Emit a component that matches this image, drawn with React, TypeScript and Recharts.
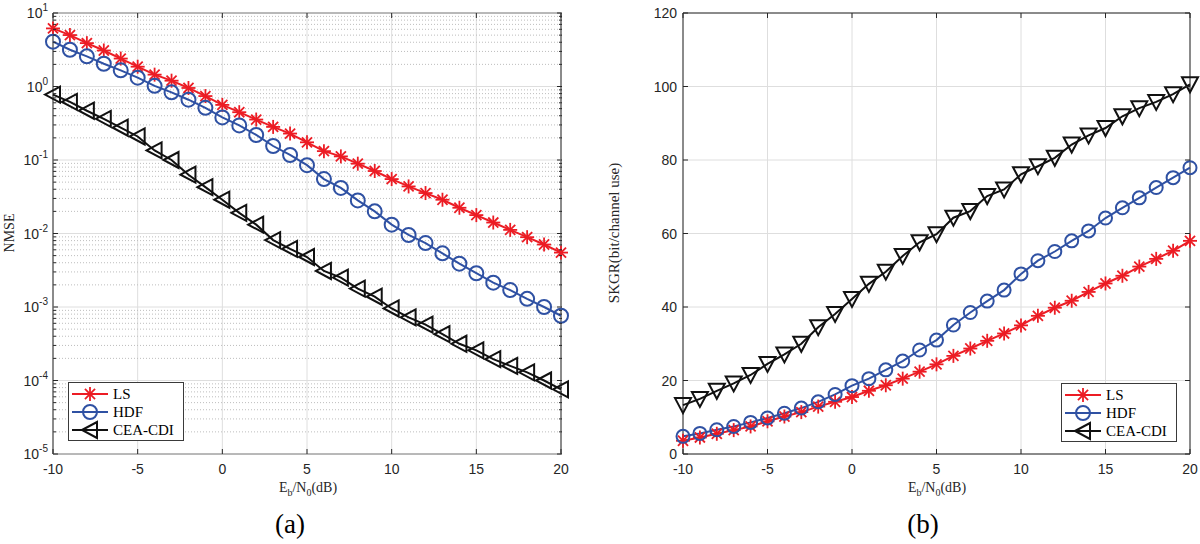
import React from 'react';
import { LineChart, Line, XAxis, YAxis, CartesianGrid, ReferenceLine, ReferenceArea, Legend } from 'recharts';

// Eb/N0 sweep, 1 dB steps
const snrDb = [-10, -9, -8, -7, -6, -5, -4, -3, -2, -1, 0, 1, 2, 3, 4, 5, 6, 7, 8, 9, 10, 11, 12, 13, 14, 15, 16, 17, 18, 19, 20];

// (a) NMSE
const nmseLs = [6.17, 5.01, 3.89, 3.09, 2.4, 1.86, 1.45, 1.2, 0.955, 0.741, 0.562, 0.447, 0.355, 0.282, 0.229, 0.174, 0.132, 0.112, 0.0891, 0.0708, 0.055, 0.0437, 0.0355, 0.0288, 0.0224, 0.0178, 0.0141, 0.0112, 0.00891, 0.00708, 0.0055];
const nmseHdf = [4.07, 3.16, 2.57, 2.04, 1.66, 1.32, 1.02, 0.832, 0.661, 0.513, 0.38, 0.295, 0.219, 0.155, 0.117, 0.0851, 0.055, 0.0417, 0.0282, 0.02, 0.0132, 0.00955, 0.00741, 0.00537, 0.00389, 0.00288, 0.00214, 0.0017, 0.00129, 0.001, 0.00076];
const nmseCea = [0.776, 0.617, 0.468, 0.363, 0.275, 0.209, 0.135, 0.1, 0.0631, 0.0427, 0.0288, 0.0191, 0.0132, 0.00813, 0.00617, 0.00479, 0.00309, 0.00251, 0.00178, 0.00138, 0.000955, 0.000724, 0.000575, 0.000427, 0.000316, 0.000257, 0.000195, 0.000158, 0.000129, 0.0001, 0.0000759];

// (b) SKGR in bit/channel use
const skgrLs = [3.6, 4.5, 5.5, 6.5, 7.5, 8.9, 10.2, 11.4, 12.9, 14.2, 15.5, 17.2, 18.7, 20.5, 22.4, 24.4, 26.7, 28.7, 30.8, 32.8, 35.0, 37.6, 39.8, 41.7, 44.1, 46.4, 48.5, 51.0, 53.1, 55.3, 58.0];
const skgrHdf = [4.8, 5.6, 6.6, 7.5, 8.6, 9.8, 11.1, 12.5, 14.2, 16.2, 18.6, 20.5, 22.9, 25.3, 28.3, 31.0, 35.1, 38.5, 41.6, 44.6, 49.0, 52.6, 55.1, 58.0, 60.7, 64.2, 67.0, 69.7, 72.5, 75.2, 77.9];
const skgrCea = [13.3, 15.0, 17.2, 19.2, 21.5, 24.5, 27.1, 30.0, 34.5, 38.1, 42.2, 46.3, 49.6, 53.9, 57.6, 59.8, 64.3, 66.1, 70.2, 72.0, 76.1, 78.3, 80.6, 84.2, 86.7, 88.7, 91.9, 94.1, 95.8, 97.9, 100.6];

const xTicks = [-10, -5, 0, 5, 10, 15, 20];
const nmseDecades = [1e-5, 1e-4, 1e-3, 1e-2, 1e-1, 1, 10];
const nmseExponents = ['-5', '-4', '-3', '-2', '-1', '0', '1'];
const minorSteps = [2, 3, 4, 5, 6, 7, 8, 9];
const skgrTicks = [0, 20, 40, 60, 80, 100, 120];
const seriesNames = ['LS', 'HDF', 'CEA-CDI'];

const nmseMinor = nmseDecades.slice(0, -1).flatMap((d) => minorSteps.map((m) => m * d));
const nmseAllTicks = [...nmseDecades, ...nmseMinor].sort((a, b) => a - b);

const nmseData = snrDb.map((snr, i) => ({ snr, ls: nmseLs[i], hdf: nmseHdf[i], cea: nmseCea[i] }));
const skgrData = snrDb.map((snr, i) => ({ snr, ls: skgrLs[i], hdf: skgrHdf[i], cea: skgrCea[i] }));

const RED = '#ec1c24';
const BLUE = '#2f51a3';
const BLACK = '#111111';
const AXIS = '#262626';
const GRID = '#dedede';
const SANS = '"Liberation Sans", Arial, sans-serif';
const SERIF = '"Liberation Serif", "Times New Roman", serif';

// ─── markers ──────────────────────────────────────────────

function Star({ cx, cy, r = 7 }: { cx: number; cy: number; r?: number }) {
  const d = r * 0.72;
  return (
    <g stroke={RED} strokeWidth={1.8}>
      <line x1={cx - r} y1={cy} x2={cx + r} y2={cy} />
      <line x1={cx} y1={cy - r} x2={cx} y2={cy + r} />
      <line x1={cx - d} y1={cy - d} x2={cx + d} y2={cy + d} />
      <line x1={cx - d} y1={cy + d} x2={cx + d} y2={cy - d} />
    </g>
  );
}

function Ring({ cx, cy, r = 7 }: { cx: number; cy: number; r?: number }) {
  return <circle cx={cx} cy={cy} r={r} fill="none" stroke={BLUE} strokeWidth={2} />;
}

function TriLeft({ cx, cy }: { cx: number; cy: number }) {
  return <polygon points={`${cx - 8},${cy} ${cx + 7},${cy - 8} ${cx + 7},${cy + 8}`} fill="none" stroke={BLACK} strokeWidth={2} />;
}

function TriDown({ cx, cy }: { cx: number; cy: number }) {
  return <polygon points={`${cx - 8},${cy - 7} ${cx + 8},${cy - 7} ${cx},${cy + 8}`} fill="none" stroke={BLACK} strokeWidth={2} />;
}

const starDot = (p: any) => <Star key={p.index} cx={p.cx} cy={p.cy} />;
const ringDot = (r: number) => (p: any) => <Ring key={p.index} cx={p.cx} cy={p.cy} r={r} />;
const triLeftDot = (p: any) => <TriLeft key={p.index} cx={p.cx} cy={p.cy} />;
const triDownDot = (p: any) => <TriDown key={p.index} cx={p.cx} cy={p.cy} />;

// ─── ticks (MATLAB style, pointing inward, mirrored on the box) ─────

const makeXTick = (plotH: number) => (props: any) => {
  const { x, y, payload } = props;
  return (
    <g>
      <line x1={x} x2={x} y1={y} y2={y - 5} stroke={AXIS} />
      <line x1={x} x2={x} y1={y - plotH} y2={y - plotH + 5} stroke={AXIS} />
      <text x={x} y={y + 20} textAnchor="middle" fontSize={14} fill={AXIS} fontFamily={SANS}>{payload.value}</text>
    </g>
  );
};

const makeLogTick = (plotW: number) => (props: any) => {
  const { x, y, payload } = props;
  const idx = nmseDecades.findIndex((d) => Math.abs(d - payload.value) / d < 1e-6);
  const len = idx >= 0 ? 5 : 3;
  return (
    <g>
      <line x1={x} x2={x + len} y1={y} y2={y} stroke={AXIS} />
      <line x1={x + plotW} x2={x + plotW - len} y1={y} y2={y} stroke={AXIS} />
      {idx >= 0 && (
        <text x={x - 5} y={y + 5} textAnchor="end" fontSize={14} fill={AXIS} fontFamily={SANS}>
          10
          <tspan dy={-7} fontSize={10}>{nmseExponents[idx]}</tspan>
        </text>
      )}
    </g>
  );
};

const makeLinTick = (plotW: number) => (props: any) => {
  const { x, y, payload } = props;
  return (
    <g>
      <line x1={x} x2={x + 5} y1={y} y2={y} stroke={AXIS} />
      <line x1={x + plotW} x2={x + plotW - 5} y1={y} y2={y} stroke={AXIS} />
      <text x={x - 6} y={y + 5} textAnchor="end" fontSize={14} fill={AXIS} fontFamily={SANS}>{payload.value}</text>
    </g>
  );
};

// ─── legend ──────────────────────────────────────────────

function LegendBox() {
  const rows = [
    { name: seriesNames[0], color: RED, mark: (cx: number, cy: number) => <Star cx={cx} cy={cy} /> },
    { name: seriesNames[1], color: BLUE, mark: (cx: number, cy: number) => <Ring cx={cx} cy={cy} /> },
    { name: seriesNames[2], color: BLACK, mark: (cx: number, cy: number) => <TriLeft cx={cx} cy={cy} /> },
  ];
  return (
    <svg width={116} height={59} style={{ display: 'block' }}>
      <rect x={0.5} y={0.5} width={115} height={58} fill="#fff" stroke="#3a3a3a" />
      {rows.map((r, i) => {
        const cy = 12 + i * 18;
        return (
          <g key={r.name}>
            <line x1={4} x2={40} y1={cy} y2={cy} stroke={r.color} strokeWidth={2} />
            {r.mark(22, cy)}
            <text x={45} y={cy + 5} fontSize={15} fontFamily={SERIF} fill="#000">{r.name}</text>
          </g>
        );
      })}
    </svg>
  );
}

// ─── panels ──────────────────────────────────────────────

function NmsePanel() {
  return (
    <LineChart width={600} height={544} data={nmseData} margin={{ top: 13, right: 39, left: 14, bottom: 60 }}>
      <CartesianGrid horizontal={false} stroke={GRID} />
      {nmseMinor.map((v) => (
        <ReferenceLine key={`m${v}`} y={v} stroke="#bdbdbd" strokeDasharray="1 2" />
      ))}
      {nmseDecades.map((v) => (
        <ReferenceLine key={`d${v}`} y={v} stroke={GRID} />
      ))}
      <XAxis dataKey="snr" type="number" domain={[-10, 20]} ticks={xTicks} interval={0} height={30}
        tickSize={0} tickMargin={0} tickLine={false} axisLine={false} tick={makeXTick(441)} />
      <YAxis type="number" scale="log" domain={[1e-5, 10]} ticks={nmseAllTicks} interval={0} width={39}
        allowDataOverflow tickSize={0} tickMargin={0} tickLine={false} axisLine={false} tick={makeLogTick(509)} />
      <Line type="linear" dataKey="ls" stroke={RED} strokeWidth={2} dot={starDot} isAnimationActive={false} />
      <Line type="linear" dataKey="hdf" stroke={BLUE} strokeWidth={2} dot={ringDot(7)} isAnimationActive={false} />
      <Line type="linear" dataKey="cea" stroke={BLACK} strokeWidth={2} dot={triLeftDot} isAnimationActive={false} />
      <ReferenceArea x1={-10} x2={20} y1={1e-5} y2={10} fill="none" stroke={AXIS} strokeWidth={1} />
      <Legend verticalAlign="middle" align="center" layout="horizontal"
        wrapperStyle={{ left: 68, top: 382, width: 116, height: 59 }} content={() => <LegendBox />} />
    </LineChart>
  );
}

function SkgrPanel() {
  return (
    <LineChart width={600} height={544} data={skgrData} margin={{ top: 13, right: 10, left: 43, bottom: 60 }}>
      <CartesianGrid stroke={GRID} />
      <XAxis dataKey="snr" type="number" domain={[-10, 20]} ticks={xTicks} interval={0} height={30}
        tickSize={0} tickMargin={0} tickLine={false} axisLine={false} tick={makeXTick(441)} />
      <YAxis type="number" domain={[0, 120]} ticks={skgrTicks} interval={0} width={40}
        tickSize={0} tickMargin={0} tickLine={false} axisLine={false} tick={makeLinTick(507)} />
      <Line type="linear" dataKey="ls" stroke={RED} strokeWidth={2} dot={starDot} isAnimationActive={false} />
      <Line type="linear" dataKey="hdf" stroke={BLUE} strokeWidth={2} dot={ringDot(6.5)} isAnimationActive={false} />
      <Line type="linear" dataKey="cea" stroke={BLACK} strokeWidth={2} dot={triDownDot} isAnimationActive={false} />
      <ReferenceArea x1={-10} x2={20} y1={0} y2={120} fill="none" stroke={AXIS} strokeWidth={1} />
      <Legend verticalAlign="middle" align="center" layout="horizontal"
        wrapperStyle={{ left: 461, top: 383, width: 116, height: 59 }} content={() => <LegendBox />} />
    </LineChart>
  );
}

const abs = (left: number, top: number, extra: React.CSSProperties = {}): React.CSSProperties => ({
  position: 'absolute', left, top, whiteSpace: 'nowrap', ...extra,
});

function XTitle({ cx }: { cx: number }) {
  return (
    <div style={abs(cx, 489, { transform: 'translate(-50%, -50%)', fontFamily: SERIF, fontSize: 14, color: AXIS })}>
      E<sub style={{ fontSize: 10 }}>b</sub>/N<sub style={{ fontSize: 10 }}>0</sub>(dB)
    </div>
  );
}

export default function App() {
  return (
    <div style={{ position: 'absolute', left: 0, top: 0, width: 1200, height: 544, background: '#fff', overflow: 'hidden' }}>
      <div style={abs(0, 0)}><NmsePanel /></div>
      <div style={abs(600, 0)}><SkgrPanel /></div>
      <div style={abs(10, 233, { transform: 'translate(-50%, -50%) rotate(-90deg)', fontFamily: SERIF, fontSize: 14, color: AXIS })}>NMSE</div>
      <div style={abs(614, 233, { transform: 'translate(-50%, -50%) rotate(-90deg)', fontFamily: SERIF, fontSize: 15, color: AXIS })}>SKGR(bit/channel use)</div>
      <XTitle cx={308} />
      <XTitle cx={937} />
      <div style={abs(290, 524, { transform: 'translate(-50%, -50%)', fontFamily: SERIF, fontSize: 27, color: '#000' })}>(a)</div>
      <div style={abs(923, 524, { transform: 'translate(-50%, -50%)', fontFamily: SERIF, fontSize: 27, color: '#000' })}>(b)</div>
    </div>
  );
}
